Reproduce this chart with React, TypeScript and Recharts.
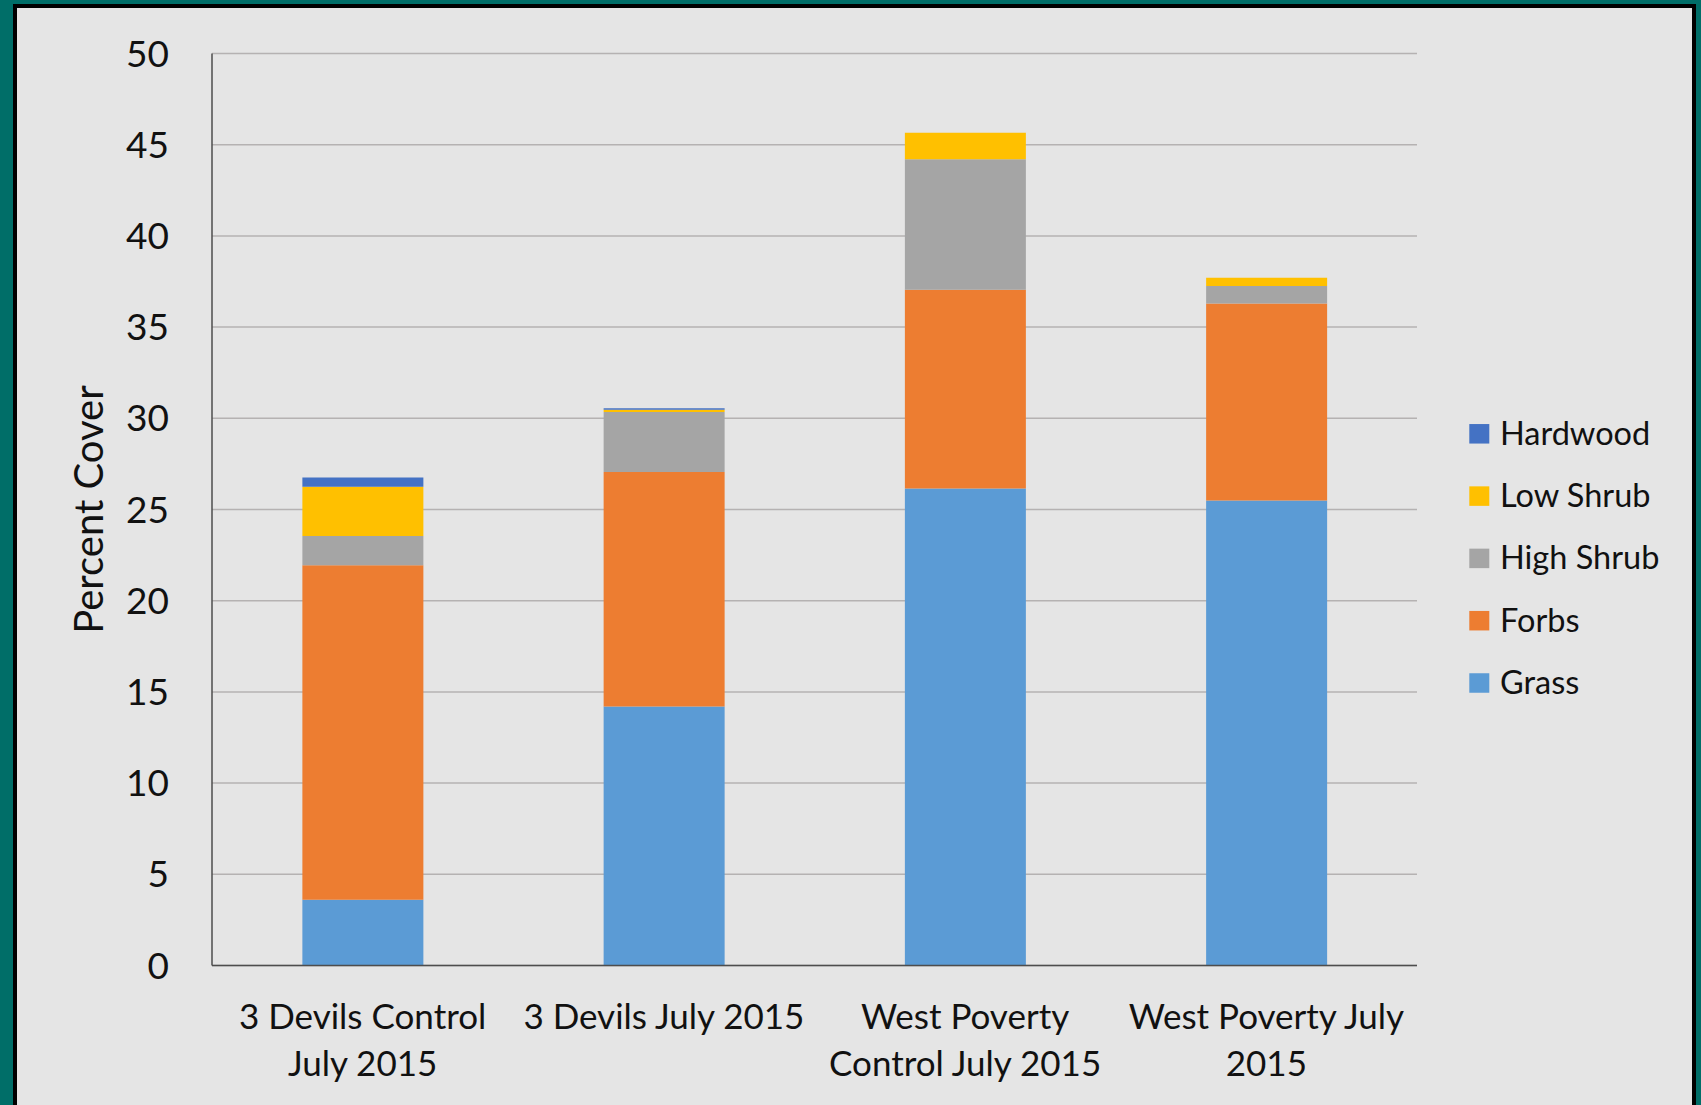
import React from "react";
import {
  BarChart,
  Bar,
  XAxis,
  YAxis,
  CartesianGrid,
  Legend,
} from "recharts";

// plots and their wrapped axis labels
const sites = [
  "3 Devils Control July 2015",
  "3 Devils July 2015",
  "West Poverty Control July 2015",
  "West Poverty July 2015",
];
const siteLabelLines = [
  ["3 Devils Control", "July 2015"],
  ["3 Devils July 2015"],
  ["West Poverty", "Control July 2015"],
  ["West Poverty July", "2015"],
];

// percent cover per plot, bottom to top of each stack
const grass = [3.6, 14.2, 26.15, 25.5];
const forbs = [18.35, 12.85, 10.9, 10.8];
const highShrub = [1.6, 3.3, 7.15, 0.95];
const lowShrub = [2.7, 0.12, 1.45, 0.45];
const hardwood = [0.5, 0.08, 0, 0];

const yTicks = [0, 5, 10, 15, 20, 25, 30, 35, 40, 45, 50];

const series = [
  { key: "Grass", values: grass, color: "#5b9bd5" },
  { key: "Forbs", values: forbs, color: "#ed7d31" },
  { key: "High Shrub", values: highShrub, color: "#a5a5a5" },
  { key: "Low Shrub", values: lowShrub, color: "#ffc000" },
  { key: "Hardwood", values: hardwood, color: "#4472c4" },
];

const data = sites.map((site, i) => {
  const row: Record<string, string | number> = { site };
  series.forEach((s) => (row[s.key] = s.values[i]));
  return row;
});

const FONT = "Lato, 'Open Sans', sans-serif";
const INK = "#111111";

function SiteTick(props: any) {
  const { x, y, index } = props;
  const lines = siteLabelLines[index] || [props.payload.value];
  return (
    <g>
      {lines.map((line: string, i: number) => (
        <text
          key={i}
          x={x}
          y={y + 63 + i * 47}
          textAnchor="middle"
          fontFamily={FONT}
          fontSize={35}
          fill={INK}
        >
          {line}
        </text>
      ))}
    </g>
  );
}

function AxisTitle(props: any) {
  const vb = props.viewBox || { x: 112, y: 53.5, width: 100, height: 912 };
  const tx = vb.x + vb.width - 109.3;
  const ty = vb.y + vb.height / 2;
  return (
    <text
      x={tx}
      y={ty}
      transform={`rotate(-90 ${tx} ${ty})`}
      textAnchor="middle"
      fontFamily={FONT}
      fontSize={40}
      fill={INK}
    >
      Percent Cover
    </text>
  );
}

// legend lists the stack top-down, like Excel does
function LegendBox(props: any) {
  const order = (v: string) => series.findIndex((s) => s.key === v);
  const items = [...(props.payload || [])].sort(
    (a: any, b: any) => order(b.value) - order(a.value)
  );
  return (
    <svg width={240} height={320} style={{ display: "block" }}>
      {items.map((item: any, i: number) => {
        const cy = 33.8 + i * 62.3;
        return (
          <g key={item.value}>
            <rect x={9.3} y={cy - 9.75} width={20} height={19.5} fill={item.color} />
            <text x={40} y={cy + 11} fontFamily={FONT} fontSize={32.5} fill={INK}>
              {item.value}
            </text>
          </g>
        );
      })}
    </svg>
  );
}

export default function App() {
  return (
    <div
      style={{
        position: "absolute",
        left: 0,
        top: 0,
        width: 1701,
        height: 1105,
        background: "#006e68",
        overflow: "hidden",
      }}
    >
      <div
        style={{
          position: "absolute",
          left: 13,
          top: 4,
          width: 1675,
          height: 1120,
          border: "4px solid #000000",
          background: "#e5e5e5",
        }}
      />
      <div style={{ position: "absolute", left: 0, top: 0 }}>
        <BarChart
          width={1701}
          height={1105}
          data={data}
          margin={{ top: 53.5, right: 44, left: 112, bottom: 39.5 }}
          barCategoryGap="30%"
        >
          <CartesianGrid vertical={false} stroke="#b5b2b2" strokeWidth={1.5} />
          <XAxis
            dataKey="site"
            height={100}
            interval={0}
            tickLine={false}
            tickSize={0}
            tickMargin={0}
            tick={<SiteTick />}
            axisLine={{ stroke: "#4d4d4d", strokeWidth: 1.5 }}
          />
          <YAxis
            width={100}
            domain={[0, 50]}
            ticks={yTicks}
            tickLine={false}
            tickSize={0}
            tickMargin={43}
            tick={{ fontFamily: FONT, fontSize: 37, fill: INK }}
            axisLine={{ stroke: "#4d4d4d", strokeWidth: 1.5 }}
            label={<AxisTitle />}
          />
          <Legend
            layout="horizontal"
            verticalAlign="middle"
            align="right"
            content={<LegendBox />}
            wrapperStyle={{ left: 1460, top: 400, right: "auto", width: 240, height: 320 }}
          />
          {series.map((s) => (
            <Bar
              key={s.key}
              dataKey={s.key}
              stackId="cover"
              fill={s.color}
              isAnimationActive={false}
            />
          ))}
        </BarChart>
      </div>
    </div>
  );
}
